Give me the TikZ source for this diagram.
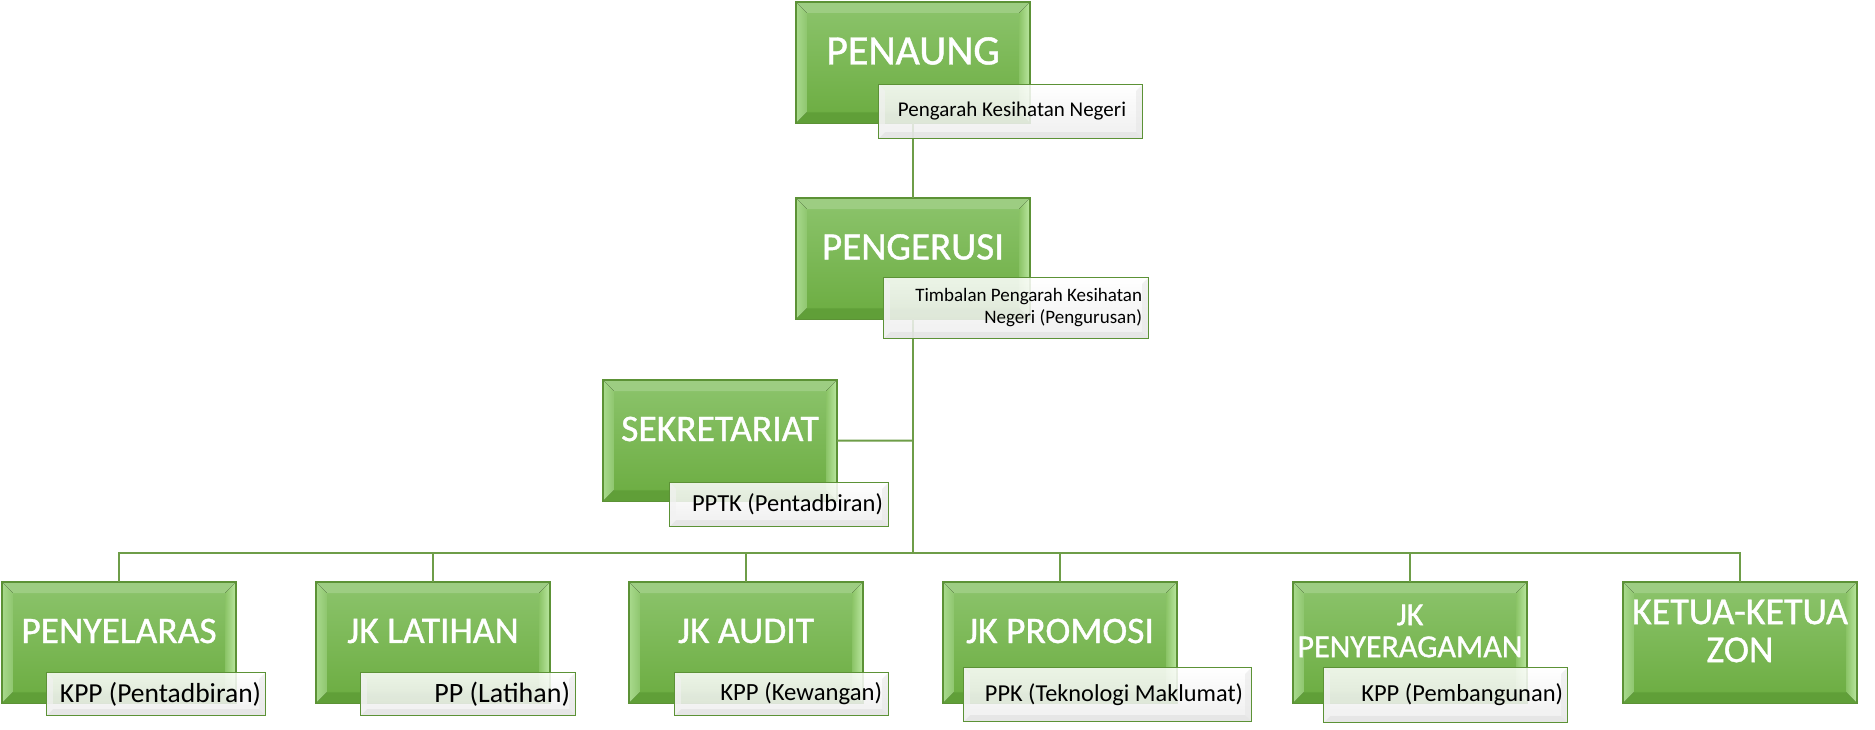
\documentclass[tikz,border=0pt]{standalone}
\usepackage{fontspec}
\setmainfont{Carlito}
\newfontfamily\heavyfont{Carlito}[FakeBold=1]
\definecolor{gtopc}{HTML}{8CC46C}
\definecolor{gbotc}{HTML}{6BAC40}
\definecolor{gedge}{HTML}{5C9236}
\definecolor{glight}{HTML}{A9DA8D}
\definecolor{ghigh}{HTML}{BCE8A2}
\definecolor{gdark}{HTML}{609F38}
\definecolor{linec}{HTML}{6E9D48}
\tikzset{
  gface/.style={rectangle, inner sep=0pt, minimum width=234bp, minimum height=121bp,
    top color=gtopc, bottom color=gbotc, draw=none},
  gborder/.style={draw=gedge, line width=1.5bp},
  gtext/.style={text=white, align=center, inner sep=0pt},
  sface/.style={rectangle, inner sep=0pt, top color=white, bottom color=black!7,
    draw=none, fill opacity=0.86},
  stext/.style={text=black, align=right, inner sep=0pt},
  conn/.style={draw=linec, line width=2bp},
}
\newcommand\greenbox[5]{%
  \node[gface, anchor=north] (#1) at (#2,#3) {};
  \fill[gtopc!85!white] (#1.north west) -- (#1.north east) -- ([shift={(-11bp,-11bp)}]#1.north east) -- ([shift={(11bp,-11bp)}]#1.north west) -- cycle;
  \fill[left color=glight, right color=gtopc!90!glight] (#1.north west) -- ([shift={(11bp,-11bp)}]#1.north west) -- ([shift={(11bp,11bp)}]#1.south west) -- (#1.south west) -- cycle;
  \fill[left color=gbotc!60!ghigh, right color=ghigh] (#1.north east) -- ([shift={(-11bp,-11bp)}]#1.north east) -- ([shift={(-11bp,11bp)}]#1.south east) -- (#1.south east) -- cycle;
  \fill[gdark] (#1.south west) -- ([shift={(11bp,11bp)}]#1.south west) -- ([shift={(-11bp,11bp)}]#1.south east) -- (#1.south east) -- cycle;
  \draw[gborder] (#1.north west) rectangle (#1.south east);
  \node[gtext, font={\heavyfont\fontsize{#5bp}{#5bp}\selectfont}] (#1t) at ([yshift=-49bp]#1.north) {#4};
}
% name, cx, cy, w, h, text, size, right margin
\newcommand\mysub[8]{%
  \node[sface, minimum width=#4bp, minimum height=#5bp] (#1) at (#2,#3) {};
  \fill[black!12, opacity=0.6] (#1.south west) -- ([shift={(6bp,6bp)}]#1.south west) -- ([shift={(-6bp,6bp)}]#1.south east) -- (#1.south east) -- cycle;
  \fill[black!10, opacity=0.5] (#1.north east) -- ([shift={(-6bp,-6bp)}]#1.north east) -- ([shift={(-6bp,6bp)}]#1.south east) -- (#1.south east) -- cycle;
  \fill[black!5, opacity=0.6] (#1.north west) -- ([shift={(6bp,-6bp)}]#1.north west) -- ([shift={(6bp,6bp)}]#1.south west) -- (#1.south west) -- cycle;
  \draw[gborder, line width=1.3bp] (#1.north west) rectangle (#1.south east);
  \node[stext, anchor=east, font={\fontsize{#7bp}{22bp}\selectfont}] (#1t) at ([xshift=-#8bp]#1.east) {#6};
}
\begin{document}
\begin{tikzpicture}[x=1bp,y=-1bp]
\useasboundingbox[fill=white] (0,0) rectangle (1875,730);
% connector skeleton
\coordinate (bus) at (913,553);
\coordinate (sekj) at (913,440.5);
% main boxes
\greenbox{pen}{913}{2}{PENAUNG}{42}
\greenbox{peng}{913}{198}{PENGERUSI}{39}
\greenbox{sek}{720}{380}{SEKRETARIAT}{37.5}
\greenbox{b1}{119}{582}{PENYELARAS}{37.5}
\greenbox{b2}{433}{582}{JK LATIHAN}{37.5}
\greenbox{b3}{746}{582}{JK AUDIT}{37.5}
\greenbox{b4}{1060}{582}{JK PROMOSI}{37.5}
\greenbox{b5}{1410}{582}{JK\\PENYERAGAMAN}{32}
\greenbox{b6}{1740}{582}{KETUA-KETUA\\ZON}{38}
% connectors
\draw[conn] (pen.south) -- (peng.north);
\draw[conn] (peng.south) -- (bus);
\draw[conn] (sek.east) -- (sekj);
\draw[conn] (b1.north) |- (bus);
\draw[conn] (b2.north) |- (bus);
\draw[conn] (b3.north) |- (bus);
\draw[conn] (b4.north) |- (bus);
\draw[conn] (b5.north) |- (bus);
\draw[conn] (b6.north) |- (bus);
% sub boxes
\mysub{s0}{1010.5}{111.5}{263}{53}{Pengarah Kesihatan Negeri}{21}{16}
\mysub{s1}{1016}{308}{264}{60}{Timbalan Pengarah Kesihatan\\Negeri (Pengurusan)}{19}{6}
\mysub{s2}{779}{504.5}{218}{43}{PPTK (Pentadbiran)}{24.5}{5}
\mysub{s3}{156}{694}{218}{42}{KPP (Pentadbiran)}{27.5}{4}
\mysub{s4}{468}{694}{214}{42}{PP (Latihan)}{28}{5}
\mysub{s5}{781.5}{694}{213}{42}{KPP (Kewangan)}{24.7}{6}
\mysub{s6}{1107.5}{694.5}{287}{53}{PPK (Teknologi Maklumat)}{24.3}{8}
\mysub{s7}{1445.5}{695}{243}{54}{KPP (Pembangunan)}{24.5}{4}
\end{tikzpicture}
\end{document}
